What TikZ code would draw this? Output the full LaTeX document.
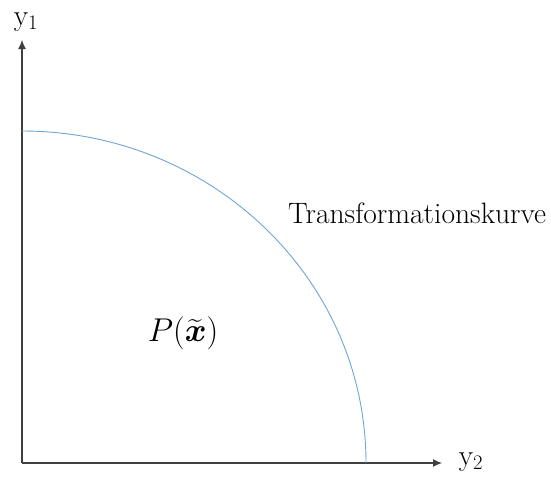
\RequirePackage{fix-cm}
\documentclass[tikz,border=0pt]{standalone}
\usepackage{amsmath}
\usetikzlibrary{arrows.meta}
\definecolor{curveblue}{RGB}{110,165,215}
\begin{document}
\begin{tikzpicture}[x=1pt,y=-1pt,
  axis/.style={draw=black!75, line width=1.1pt, -{Latex[length=9pt,width=8pt]}},
  lbl/.style={font=\fontsize{29.5}{34}\selectfont, inner sep=0pt}]
\useasboundingbox (0,0) rectangle (551,477);
\coordinate (o) at (22,463);
\coordinate (ytip) at (22,40);
\coordinate (xtip) at (442,463);
\draw[axis] (o) -- (ytip);
\draw[axis] (o) -- (xtip);
\coordinate (cs) at (22,131);
\coordinate (ce) at (366,463);
\draw[curveblue, line width=0.9pt] (cs) arc[start angle=90, end angle=0, x radius=344, y radius=-332];
\node[lbl] (y1) at (26,22) {y$_1$};
\node[lbl] (y2) at (471,462) {y$_2$};
\node[lbl, anchor=west] (tk) at (288,213) {Transformationskurve};
\node[lbl, font=\fontsize{33}{38}\selectfont] (p) at (183,333) {$P(\widetilde{\boldsymbol{x}})$};
\end{tikzpicture}
\end{document}
